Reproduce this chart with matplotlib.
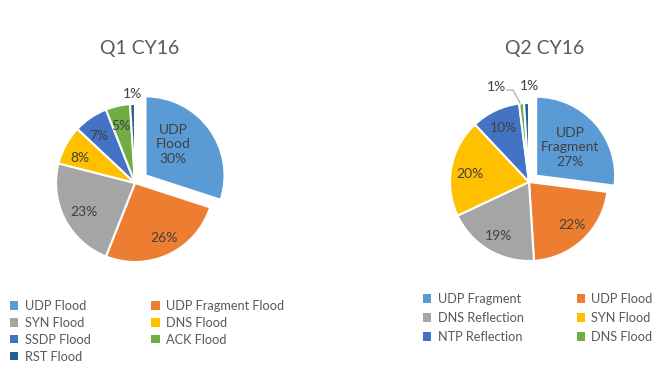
import matplotlib
matplotlib.use("Agg")
import matplotlib.pyplot as plt
from matplotlib.patches import Patch
import numpy as np

plt.rcParams['font.family'] = ['Lato', 'DejaVu Sans']

# ---- data ----
q1_title = "Q1 CY16"
q1_labels = ["UDP Flood", "UDP Fragment Flood", "SYN Flood", "DNS Flood",
             "SSDP Flood", "ACK Flood", "RST Flood"]
q1_values = [30, 26, 23, 8, 7, 5, 1]

q2_title = "Q2 CY16"
q2_labels = ["UDP Fragment", "UDP Flood", "DNS Reflection", "SYN Flood",
             "NTP Reflection", "DNS Flood", "Other"]
q2_values = [27, 22, 19, 20, 10, 1, 1]
q2_legend_count = 6

colors = ["#5B9BD5", "#ED7D31", "#A5A5A5", "#FFC000", "#4472C4", "#70AD47", "#255E91"]

W, H = 660, 389
fig = plt.figure(figsize=(W / 100, H / 100), dpi=100)
ax = fig.add_axes([0, 0, 1, 1])

def py(y):
    return H - y

R = 79
lab_color = "#404040"

def draw_pie(values, labels, center, explode_first, label_pos, first_label):
    explode = [explode_first] + [0] * (len(values) - 1)
    wedges, _ = ax.pie(values, colors=colors[:len(values)], startangle=90,
                       counterclock=False, center=(center[0], py(center[1])),
                       radius=R, explode=explode,
                       wedgeprops=dict(edgecolor="white", linewidth=1.5))
    for i, (v, pos) in enumerate(zip(values, label_pos)):
        txt = f"{v}%"
        if i == 0:
            txt = first_label + "\n" + txt
        ax.text(pos[0], py(pos[1]), txt, ha="center", va="center",
                fontsize=10, color=lab_color, linespacing=1.25)
    return wedges

q1_pos = [(173, 144), (164, 238), (84, 212), (80, 158), (99, 136), (121, 126), (132, 94)]
w1 = draw_pie(q1_values, q1_labels, (135, 183), 13, q1_pos, "UDP\nFlood")

q2_pos = [(570, 147), (572, 225), (498, 236), (470, 174), (503, 128), (496, 87), (529, 86)]
w2 = draw_pie(q2_values, q2_labels, (529, 182), 9.5, q2_pos, "UDP\nFragment")

ax.set_xlim(0, W)
ax.set_ylim(0, H)
ax.set_aspect('equal')
ax.axis('off')

# leader line for the small green slice
ax.plot([507, 513, 520], [py(90), py(90), py(103)], color="#A5A5A5", lw=0.8)

ax.text(140, py(48), q1_title, ha="center", va="center", fontsize=14, color="#595959")
ax.text(545, py(48), q2_title, ha="center", va="center", fontsize=14, color="#595959")

leg_kw = dict(frameon=False, ncol=2, fontsize=9.2, handlelength=0.65, handleheight=0.65,
              handletextpad=0.5, labelcolor="#595959", borderaxespad=0, borderpad=0)

def rowmajor(h, l, ncol=2):
    rows = int(np.ceil(len(h) / ncol))
    hh, ll = [], []
    for c in range(ncol):
        for r in range(rows):
            k = r * ncol + c
            if k < len(h):
                hh.append(h[k]); ll.append(l[k])
    return hh, ll

def patches(n):
    return [Patch(facecolor=c, edgecolor="none") for c in colors[:n]]

h1, l1 = rowmajor(patches(len(q1_labels)), q1_labels)
leg1 = ax.legend(h1, l1, loc="upper left", bbox_to_anchor=(10 / W, 1 - 300 / H),
                 columnspacing=4.75, labelspacing=0.38, **leg_kw)
ax.add_artist(leg1)

h2, l2 = rowmajor(patches(q2_legend_count), q2_labels[:q2_legend_count])
leg2 = ax.legend(h2, l2, loc="upper left", bbox_to_anchor=(423 / W, 1 - 293 / H),
                 columnspacing=4.15, labelspacing=0.55, **leg_kw)

fig.savefig("out.png", dpi=100, facecolor="white")
